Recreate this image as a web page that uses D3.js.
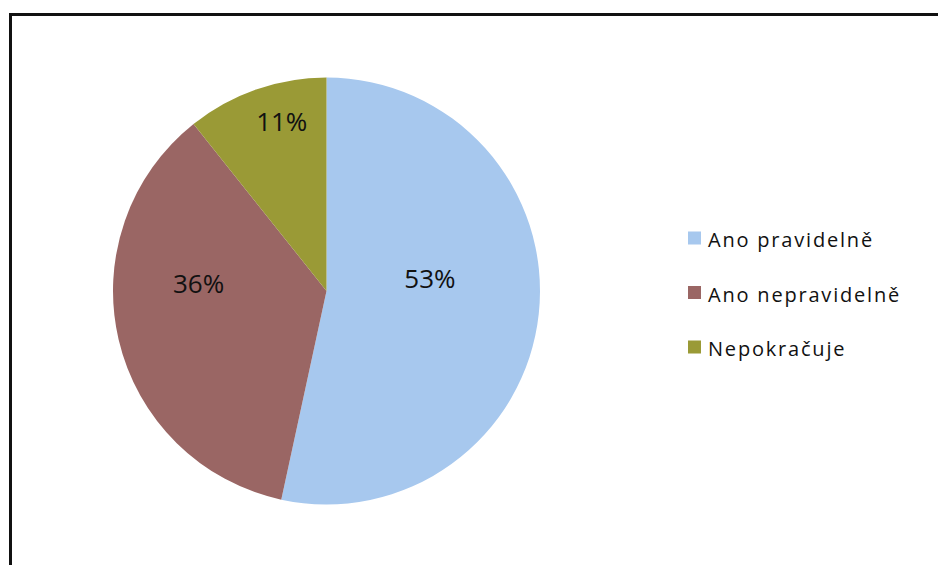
<html>
<head>
  <meta charset="utf-8">
  <script src="https://d3js.org/d3.v7.min.js"></script>
  <style>
    body { margin: 0; background: #fff; }
    .sliceLabel { font-family: "Open Sans", sans-serif; font-size: 26px; fill: #111; }
    .legendLabel { font-family: "Open Sans", sans-serif; font-size: 20px; letter-spacing: 1.8px; fill: #111; }
  </style>
</head>
<body>
  <svg id="chart" width="938" height="565"></svg>
  <script>
    const categories = ["Ano pravidelně", "Ano nepravidelně", "Nepokračuje"];
    const shares = [53.4, 35.9, 10.7];
    const colors = ["#a7c8ee", "#9a6664", "#9a9a36"];

    const svg = d3.select("#chart");

    // frame of the chart area, runs off the page at right and bottom
    svg.append("rect")
      .attr("x", 10.5).attr("y", 14.5)
      .attr("width", 1000).attr("height", 700)
      .attr("fill", "white")
      .attr("stroke", "#111")
      .attr("stroke-width", 3);

    const cx = 326.5, cy = 291, radius = 213.5;
    const total = d3.sum(shares);

    const pie = d3.pie().sort(null).value(d => d.value);
    const arcs = pie(categories.map((c, i) => ({ name: c, value: shares[i] })));

    const arc = d3.arc().innerRadius(0).outerRadius(radius);
    const color = d3.scaleOrdinal().domain(categories).range(colors);

    const g = svg.append("g").attr("transform", `translate(${cx},${cy})`);

    g.selectAll("path.slice").data(arcs)
      .join("path")
      .attr("class", "slice")
      .attr("d", arc)
      .attr("fill", d => color(d.data.name));

    // smaller slices get their label pushed further out,
    // labels of side slices are pulled toward the horizontal centre line
    g.selectAll("text.sliceLabel").data(arcs)
      .join("text")
      .attr("class", "sliceLabel")
      .attr("transform", d => {
        const lr = radius * (0.9 - 0.77 * d.data.value / total);
        const a = (d.startAngle + d.endAngle) / 2;
        const c2 = Math.cos(a) * Math.cos(a);
        const x = lr * Math.sin(a) * (1 - 0.25 * c2);
        const y = -lr * Math.cos(a) * Math.abs(Math.cos(a)) - 14;
        return `translate(${x},${y})`;
      })
      .attr("text-anchor", "middle")
      .attr("dy", "0.36em")
      .text(d => Math.round(d.data.value / total * 100) + "%");

    // legend
    const legendY = d3.scalePoint().domain(categories).range([238, 347]);
    const legend = svg.append("g");

    legend.selectAll("rect").data(categories)
      .join("rect")
      .attr("x", 688)
      .attr("y", d => legendY(d) - 6.5)
      .attr("width", 13).attr("height", 13)
      .attr("fill", d => color(d));

    legend.selectAll("text").data(categories)
      .join("text")
      .attr("class", "legendLabel")
      .attr("x", 708)
      .attr("y", d => legendY(d) + 9)
      .text(d => d);
  </script>
</body>
</html>
